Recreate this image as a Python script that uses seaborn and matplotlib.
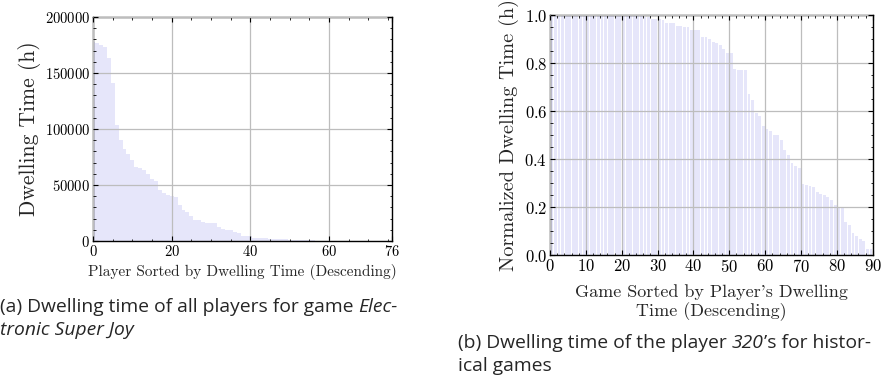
import numpy as np
import matplotlib
matplotlib.use("Agg")
import matplotlib.pyplot as plt
import seaborn as sns

# ==========================================================
# DATA
# ==========================================================

# (a) dwelling time (h) of every player of Electronic Super Joy, sorted
player_idx = np.arange(76)
player_hours = [
    178000, 177000, 175000, 173500, 163500, 141500, 104000, 90000, 82000, 78000,
    72000, 66000, 65000, 63000, 59500, 55500, 53500, 45500, 43000, 41500,
    40000, 39500, 32000, 27500, 25500, 22300, 18800, 18800, 17000, 16400,
    15700, 15700, 12800, 11000, 10000, 9800, 8000, 7000, 4700, 4700,
    4600, 3000, 3000, 3000, 2800, 2000, 1900, 1800, 1700, 1500,
    900, 800, 700, 650, 600, 550, 500, 450, 420, 400,
    380, 350, 320, 300, 280, 260, 240, 220, 200, 180,
    160, 140, 120, 100, 80, 60,
]

# (b) normalized dwelling time of player 320 over the historical games
game_rank = np.arange(1, 91)
game_norm = [
    1.0, 1.0, 1.0, 1.0, 1.0, 1.0, 1.0, 1.0, 1.0, 1.0,
    1.0, 1.0, 1.0, 1.0, 1.0, 1.0, 1.0, 1.0, 1.0, 1.0,
    0.998, 0.998, 0.998, 0.998, 0.998, 0.998, 0.99, 0.99, 0.985, 0.983,
    0.983, 0.978, 0.968, 0.968, 0.968, 0.953, 0.953, 0.948, 0.948, 0.9375,
    0.9375, 0.9375, 0.907, 0.907, 0.9, 0.889, 0.882, 0.875, 0.857, 0.843,
    0.843, 0.774, 0.771, 0.771, 0.771, 0.67, 0.646, 0.593, 0.58, 0.5375,
    0.525, 0.518, 0.5, 0.5, 0.479, 0.4375, 0.417, 0.385, 0.372, 0.361,
    0.296, 0.292, 0.2875, 0.282, 0.264, 0.254, 0.25, 0.24, 0.229, 0.207,
    0.199, 0.199, 0.139, 0.125, 0.09, 0.08, 0.067, 0.06, 0.025, 0.025,
]

# ==========================================================
# STYLE
# ==========================================================

sns.set_style("ticks")
plt.rcParams.update({
    "font.family": ["cmr10", "DejaVu Serif"],
    "mathtext.fontset": "cm",
    "axes.formatter.use_mathtext": True,
    "axes.linewidth": 1.0,
    "axes.edgecolor": "black",
    "xtick.direction": "in",
    "ytick.direction": "in",
    "xtick.top": True,
    "ytick.right": True,
    "xtick.major.size": 3.5,
    "ytick.major.size": 3.5,
    "xtick.minor.size": 1.8,
    "ytick.minor.size": 1.8,
    "xtick.major.width": 0.8,
    "ytick.major.width": 0.8,
    "xtick.minor.width": 0.6,
    "ytick.minor.width": 0.6,
    "xtick.color": "black",
    "ytick.color": "black",
    "xtick.major.pad": 2,
    "ytick.major.pad": 2,
})

BAR = "lavender"
GRID = dict(color="#bdbdbd", linewidth=0.9)
CAP = ["Open Sans", "DejaVu Sans"]
CAP_SIZE = 13.9

fig = plt.figure(figsize=(8.92, 3.75), dpi=100)

# ==========================================================
# (a) LEFT PANEL
# ==========================================================

ax1 = fig.add_axes([0.1043, 0.3573, 0.3352, 0.5973])
sns.barplot(x=player_idx, y=player_hours, native_scale=True, width=1,
            color=BAR, saturation=1, linewidth=0, errorbar=None, ax=ax1)
ax1.set_xlim(0, 76)
ax1.set_ylim(0, 200000)
ax1.set_xticks([0, 20, 40, 60, 76])
ax1.set_xticks(np.arange(0, 76, 5), minor=True)
ax1.set_yticks(np.arange(0, 200001, 50000))
ax1.set_yticks(np.arange(0, 200001, 10000), minor=True)
ax1.set_axisbelow(False)
ax1.grid(True, which="major", **GRID)
ax1.tick_params(labelsize=10.5)
ax1.set_xlabel("Player Sorted by Dwelling Time (Descending)", fontsize=11, labelpad=4)
ax1.set_ylabel("Dwelling Time (h)", fontsize=15.5, labelpad=3)

# ==========================================================
# (b) RIGHT PANEL
# ==========================================================

ax2 = fig.add_axes([0.6166, 0.32, 0.3618, 0.64])
sns.barplot(x=game_rank - 0.5, y=game_norm, native_scale=True, width=0.8,
            color=BAR, saturation=1, linewidth=0, errorbar=None, ax=ax2)
ax2.set_xlim(0, 90)
ax2.set_ylim(0, 1.0)
ax2.set_xticks(np.arange(0, 91, 10))
ax2.set_xticks(np.arange(0, 91, 2), minor=True)
ax2.set_yticks(np.arange(0, 1.01, 0.2))
ax2.set_yticks(np.arange(0, 1.01, 0.05), minor=True)
ax2.set_axisbelow(False)
ax2.grid(True, which="major", **GRID)
ax2.tick_params(labelsize=12)
ax2.set_xlabel("Game Sorted by Player's Dwelling\nTime (Descending)",
               fontsize=13, labelpad=7, linespacing=1.15)
ax2.set_ylabel("Normalized Dwelling Time (h)", fontsize=14.6, labelpad=4)

# ==========================================================
# CAPTIONS
# ==========================================================

def caption_line(x, y, parts):
    # chain text pieces so that italic words sit on the same baseline
    last = None
    for txt, style in parts:
        if last is None:
            last = fig.text(x, y, txt, fontsize=CAP_SIZE, family=CAP, style=style,
                            va="bottom", ha="left")
        else:
            last = fig.axes[0].annotate(txt, xy=(1, 0), xycoords=last,
                                        fontsize=CAP_SIZE, family=CAP, style=style,
                                        va="bottom", ha="left",
                                        annotation_clip=False)


caption_line(0.0, 1 - 316 / 375, [("(a) Dwelling time of all players for game ", "normal"),
                                  ("Elec-", "italic")])
caption_line(0.0, 1 - 339 / 375, [("tronic Super Joy", "italic")])
caption_line(458 / 892, 1 - 352 / 375, [("(b) Dwelling time of the player ", "normal"),
                                        ("320", "italic"),
                                        ("\u2019s for histor-", "normal")])
caption_line(458 / 892, 1 - 375 / 375, [("ical games", "normal")])

fig.savefig("out.png", dpi=100)
